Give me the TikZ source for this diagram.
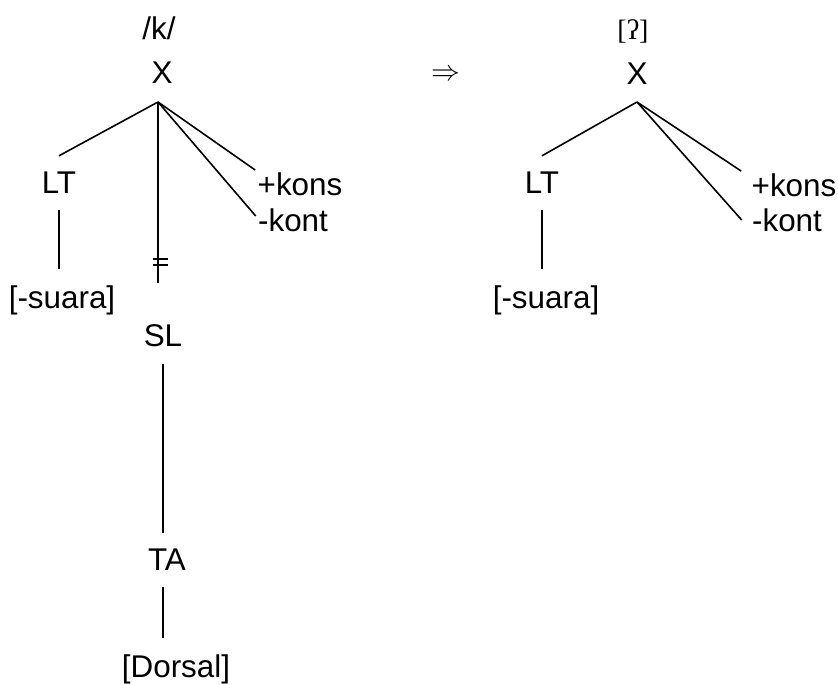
\documentclass[tikz,border=0pt]{standalone}
\usepackage{fontspec}
\setmainfont{Liberation Sans}
\newfontfamily\ipafont{Liberation Serif}
\usepackage{tikz}
\tikzstyle{seg} = [inner xsep=1pt, inner ysep=8pt]
\tikzstyle{feat} = [inner sep=1pt]
\tikzstyle{link} = [line width=0.8pt]

\begin{document}
\begin{tikzpicture}[x=0.5pt, y=-0.5pt, font=\fontsize{15.7}{18}\selectfont]
	\useasboundingbox (0,0) rectangle (838,684);
	% /k/ tree
	\node (kl) [seg] at (159,28) {/k/};
	\node (xl) [seg] at (162,73) {X};
	\coordinate (jl) at (158,102);
	\node (ltl) [seg] at (59,183) {LT};
	\node (sul) [seg] at (62,300) {[-suara]};
	\node (konsl) [feat] at (300,184) {+kons};
	\node (kontl) [feat] at (293,220) {-kont};
	\coordinate (cutl) at (158,283);
	\node (sl) [seg] at (163,336) {SL};
	\node (ta) [seg] at (167,560) {TA};
	\node (dor) [seg] at (176,669) {[Dorsal]};

	\draw [link] (jl) -- (ltl.north);
	\draw [link] (ltl.south) -- (ltl.south |- sul.north);
	\draw [link] (jl) -- (konsl.north west);
	\draw [link] (jl) -- ([yshift=2pt]kontl.west);
	\draw [link] (jl) -- (cutl);
	% delinking
	\draw [link] ([shift={(-5,-24)}]cutl) -- ++(15,0);
	\draw [link] ([shift={(-5,-18)}]cutl) -- ++(15,0);
	\draw [link] (sl.south) -- (sl.south |- ta.north);
	\draw [link] (ta.south -| sl) -- (dor.north -| sl);

	\node (to) at (446,75) {$\Rightarrow$};

	% glottal stop tree
	\node (kr) at (633,31) {\ipafont\fontsize{14}{16}\selectfont [ʔ]};
	\node (xr) [seg] at (637,74) {X};
	\coordinate (jr) at (637,102);
	\node (ltr) [seg] at (542,183) {LT};
	\node (sur) [seg] at (546,300) {[-suara]};
	\node (konsr) [feat] at (794,185) {+kons};
	\node (kontr) [feat] at (787,220) {-kont};

	\draw [link] (jr) -- (ltr.north);
	\draw [link] (ltr.south) -- (ltr.south |- sur.north);
	\draw [link] (jr) -- ([xshift=-4pt]konsr.north west);
	\draw [link] (jr) -- ([xshift=-4pt]kontr.west);
\end{tikzpicture}
\end{document}
